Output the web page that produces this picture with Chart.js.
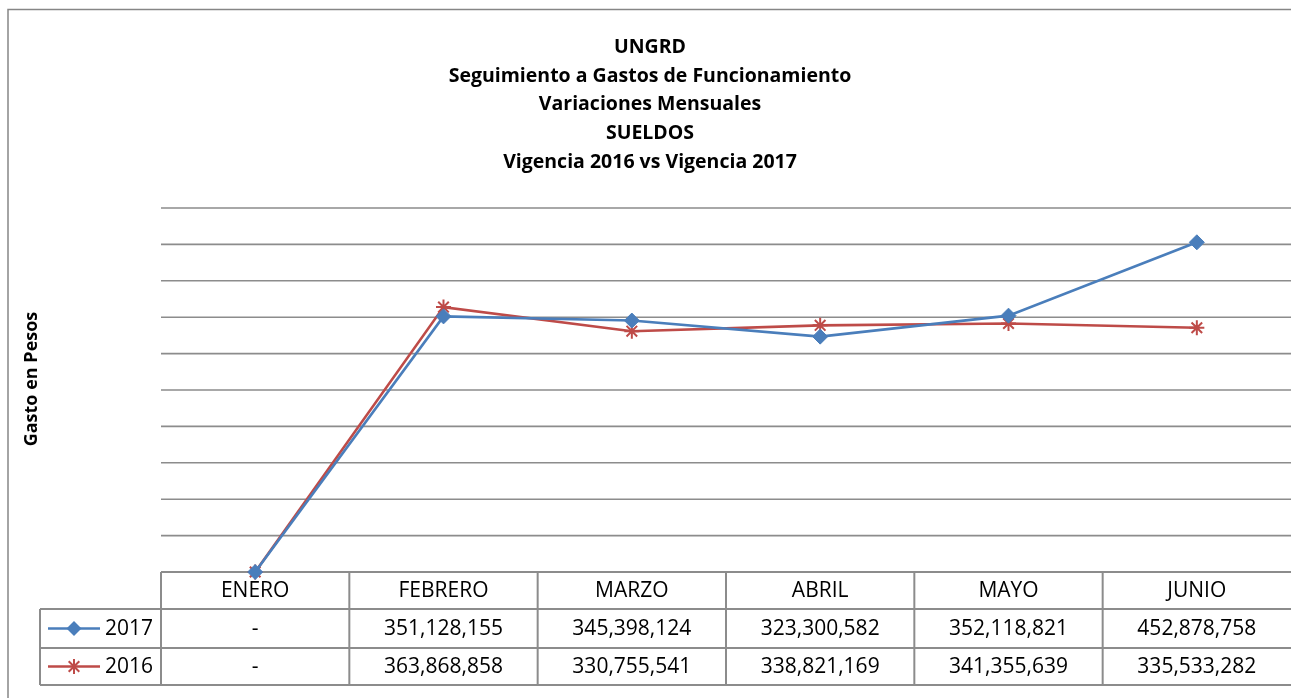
<!DOCTYPE html>
<html><head><meta charset="utf-8">
<script src="https://cdn.jsdelivr.net/npm/chart.js@4.4.1/dist/chart.umd.min.js"></script>
<style>html,body{margin:0;padding:0;background:#fff;overflow:hidden}canvas{display:block}</style>
</head><body>
<canvas id="c" width="1291" height="698"></canvas>
<script>
const categories = ['ENERO', 'FEBRERO', 'MARZO', 'ABRIL', 'MAYO', 'JUNIO'];
const values2017 = [0, 351128155, 345398124, 323300582, 352118821, 452878758];
const values2016 = [0, 363868858, 330755541, 338821169, 341355639, 335533282];
const seriesNames = ['2017', '2016'];
const titleLines = ['UNGRD', 'Seguimiento a Gastos de Funcionamiento', 'Variaciones Mensuales', 'SUELDOS', 'Vigencia 2016 vs Vigencia 2017'];
const yAxisTitle = 'Gasto en Pesos';
const yMin = 0, yMax = 500000000, yStep = 50000000;

const BLUE = '#4a7ebb', RED = '#be4b48', GRID = '#8c8c8c';
const FONT = '"Open Sans", "Noto Sans", sans-serif';

function fmt(v) { return v === 0 ? '-' : v.toLocaleString('en-US'); }

function drawMarker(ctx, style, x, y, r, color) {
  ctx.save();
  ctx.strokeStyle = color; ctx.fillStyle = color; ctx.lineWidth = 2;
  if (style === 'rectRot') {
    ctx.beginPath(); ctx.moveTo(x, y - r); ctx.lineTo(x + r, y); ctx.lineTo(x, y + r); ctx.lineTo(x - r, y); ctx.closePath(); ctx.fill();
  } else {
    ctx.beginPath();
    ctx.moveTo(x, y - r); ctx.lineTo(x, y + r);
    const d = r * 0.707;
    ctx.moveTo(x - d, y - d); ctx.lineTo(x + d, y + d);
    ctx.moveTo(x + d, y - d); ctx.lineTo(x - d, y + d);
    ctx.stroke();
  }
  ctx.restore();
}

const decorPlugin = {
  id: 'decor',
  beforeDraw(chart) {
    const ctx = chart.ctx;
    ctx.save();
    ctx.fillStyle = '#fff'; ctx.fillRect(0, 0, chart.width, chart.height);
    ctx.strokeStyle = '#868686'; ctx.lineWidth = 1.5;
    ctx.beginPath(); ctx.moveTo(8, 698); ctx.lineTo(8, 9.5); ctx.lineTo(1291, 9.5); ctx.stroke();
    ctx.fillStyle = '#000'; ctx.textAlign = 'center'; ctx.textBaseline = 'alphabetic';
    ctx.font = 'bold 19.5px ' + FONT;
    titleLines.forEach((t, i) => ctx.fillText(t, 650, 53 + i * 28.7));
    ctx.save();
    ctx.translate(37, 379); ctx.rotate(-Math.PI / 2);
    ctx.font = 'bold 18px ' + FONT;
    ctx.fillText(yAxisTitle, 0, 0);
    ctx.restore();
    ctx.restore();
  },
  beforeDatasetsDraw(chart) {
    const ctx = chart.ctx, xs = chart.scales.x, yScale = chart.scales.y, area = chart.chartArea;
    const half = (area.right - area.left) / categories.length / 2;
    const top = area.bottom, r1 = 609, r2 = 648, bot = 685, legL = 40;
    ctx.save();
    // horizontal gridlines from the y scale
    ctx.strokeStyle = GRID; ctx.lineWidth = 1.6;
    ctx.beginPath();
    for (let v = yMin + yStep; v <= yMax; v += yStep) {
      const y = yScale.getPixelForValue(v);
      ctx.moveTo(area.left, y); ctx.lineTo(1291, y);
    }
    ctx.stroke();
    // data table
    ctx.lineWidth = 2;
    ctx.beginPath();
    ctx.moveTo(area.left, top); ctx.lineTo(1291, top);
    ctx.moveTo(legL, r1); ctx.lineTo(1291, r1);
    ctx.moveTo(legL, r2); ctx.lineTo(1291, r2);
    ctx.moveTo(legL, bot); ctx.lineTo(1291, bot);
    ctx.moveTo(legL, r1); ctx.lineTo(legL, bot);
    for (let i = 0; i < categories.length; i++) {
      const xl = xs.getPixelForValue(i) - half;
      ctx.moveTo(xl, top); ctx.lineTo(xl, bot);
    }
    ctx.stroke();
    ctx.fillStyle = '#000'; ctx.textAlign = 'center'; ctx.textBaseline = 'middle';
    ctx.font = '21px ' + FONT;
    const rows = [values2017, values2016];
    categories.forEach((c, i) => {
      const x = xs.getPixelForValue(i);
      ctx.fillText(c, x, (top + r1) / 2 + 1);
      ctx.fillText(fmt(rows[0][i]), x, (r1 + r2) / 2 + 1);
      ctx.fillText(fmt(rows[1][i]), x, (r2 + bot) / 2 + 1);
    });
    const ys = [(r1 + r2) / 2, (r2 + bot) / 2];
    chart.data.datasets.forEach((ds, k) => {
      ctx.strokeStyle = ds.borderColor; ctx.lineWidth = 2.5;
      ctx.beginPath(); ctx.moveTo(48, ys[k]); ctx.lineTo(100, ys[k]); ctx.stroke();
      drawMarker(ctx, ds.pointStyle, 74, ys[k], ds.pointRadius, ds.borderColor);
      ctx.fillStyle = '#000'; ctx.textAlign = 'left';
      ctx.fillText(ds.label, 105, ys[k] + 1);
    });
    ctx.restore();
  }
};

new Chart(document.getElementById('c'), {
  type: 'line',
  data: {
    labels: categories,
    datasets: [
      { label: seriesNames[0], data: values2017, borderColor: BLUE, backgroundColor: BLUE, borderWidth: 2.6,
        pointStyle: 'rectRot', pointRadius: 7.5, pointBorderWidth: 1, pointBackgroundColor: BLUE, pointBorderColor: BLUE, clip: false, tension: 0 },
      { label: seriesNames[1], data: values2016, borderColor: RED, backgroundColor: RED, borderWidth: 2.6,
        pointStyle: 'star', pointRadius: 7.5, pointBorderWidth: 2, pointBackgroundColor: RED, pointBorderColor: RED, clip: false, tension: 0 }
    ]
  },
  options: {
    responsive: false, animation: false, devicePixelRatio: 1,
    layout: { autoPadding: false, padding: { left: 161, top: 208, right: 0, bottom: 126 } },
    plugins: { legend: { display: false }, title: { display: false }, tooltip: { enabled: false } },
    scales: {
      x: { display: false, offset: true },
      y: { min: yMin, max: yMax, afterFit(s) { s.width = 0; },
        ticks: { display: false, stepSize: yStep },
        border: { display: false },
        grid: { display: false } }
    }
  },
  plugins: [decorPlugin]
});
</script>
</body></html>
